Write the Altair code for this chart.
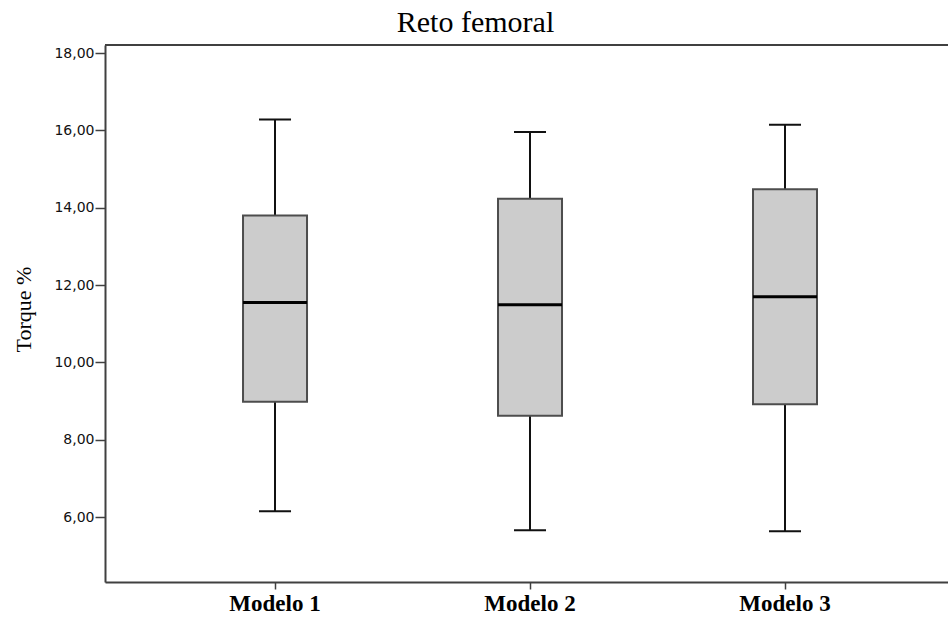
import altair as alt
import pandas as pd

models = ["Modelo 1", "Modelo 2", "Modelo 3"]
mins = [6.15, 5.66, 5.63]
q1s = [8.98, 8.62, 8.92]
medians = [11.55, 11.49, 11.70]
q3s = [13.80, 14.23, 14.48]
maxs = [16.28, 15.96, 16.15]
y_ticks = [6, 8, 10, 12, 14, 16, 18]
y_domain = [4.32, 18.21]

df = pd.DataFrame({"model": models, "lo": mins, "q1": q1s, "med": medians, "q3": q3s, "hi": maxs})

W, H = 843, 537

x = alt.X("model:N", sort=models, title=None,
          scale=alt.Scale(paddingInner=0, paddingOuter=0.153, align=0.545),
          axis=alt.Axis(labelFont="Liberation Serif", labelFontSize=23, labelFontWeight="bold",
                        labelColor="black", labelAngle=0, labelPadding=3,
                        domainColor="#404040", domainWidth=2, tickColor="#404040",
                        tickSize=7, tickWidth=1.5))

yscale = alt.Scale(domain=y_domain, nice=False, zero=False)
yaxis = alt.Axis(values=y_ticks, labelExpr="replace(format(datum.value, '.2f'), '.', ',')",
                 labelFont="DejaVu Sans", labelFontSize=14, labelColor="#111111", labelPadding=1,
                 domainColor="#404040", domainWidth=2, tickColor="#404040", tickSize=10,
                 tickWidth=1.5, grid=False,
                 title="Torque %", titleFont="Liberation Serif", titleFontSize=22,
                 titleFontWeight="normal", titleColor="black", titleAngle=-90,
                 titleX=-82, titleY=264, titleAlign="center", titleBaseline="middle")

base = alt.Chart(df)

whisk_lo = base.mark_rule(color="#111111", strokeWidth=2, opacity=1).encode(
    x=x, y=alt.Y("lo:Q", scale=yscale, axis=yaxis), y2="q1:Q")
whisk_hi = base.mark_rule(color="#111111", strokeWidth=2, opacity=1).encode(
    x=x, y=alt.Y("q3:Q", scale=yscale, axis=yaxis), y2="hi:Q")
box = base.mark_bar(size=64, color="#cccccc", stroke="#4d4d4d", strokeWidth=2, opacity=1).encode(
    x=x, y=alt.Y("q1:Q", scale=yscale, axis=yaxis), y2="q3:Q")
med = base.mark_tick(size=64, thickness=3, color="#000000", opacity=1).encode(
    x=x, y=alt.Y("med:Q", scale=yscale, axis=yaxis))
cap_lo = base.mark_tick(size=32, thickness=2, color="#111111", opacity=1).encode(
    x=x, y=alt.Y("lo:Q", scale=yscale, axis=yaxis))
cap_hi = base.mark_tick(size=32, thickness=2, color="#111111", opacity=1).encode(
    x=x, y=alt.Y("hi:Q", scale=yscale, axis=yaxis))

top_border = alt.Chart(pd.DataFrame({"k": [0]})).mark_rule(color="#404040", strokeWidth=2).encode(
    x=alt.value(0), x2=alt.value(W), y=alt.value(0))

chart = alt.layer(whisk_lo, whisk_hi, box, med, cap_lo, cap_hi, top_border).properties(
    width=W, height=H,
    title=alt.TitleParams("Reto femoral", font="Liberation Serif", fontSize=30,
                          fontWeight="normal", color="black", anchor="middle",
                          dx=-51, dy=30, offset=12, baseline="alphabetic"),
    autosize=alt.AutoSizeParams(type="none"),
    padding={"left": 105, "top": 45, "right": 0, "bottom": 39},
).configure_view(stroke=None).configure(background="white")

chart.save("out.html", embed_options={"renderer": "svg", "actions": False})
